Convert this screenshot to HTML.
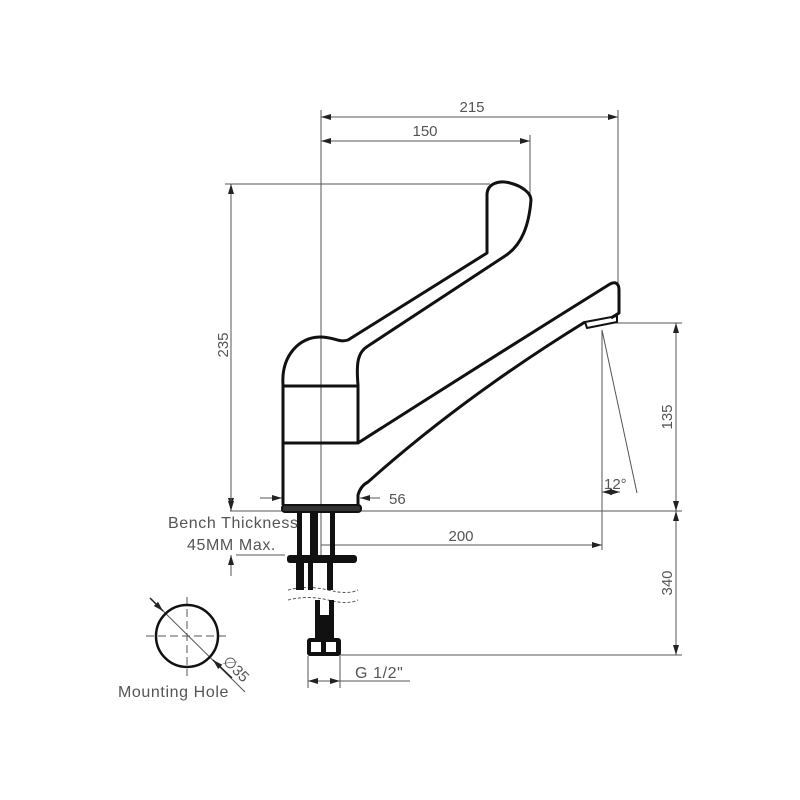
<!DOCTYPE html>
<html><head><meta charset="utf-8"><style>
html,body{margin:0;padding:0;background:#fff}
svg{display:block}
text{font-family:"Liberation Sans",sans-serif;fill:#555;font-size:15px}
.l{font-size:16px;letter-spacing:0.6px}
</style></head><body>
<svg width="800" height="800" viewBox="0 0 800 800" xmlns="http://www.w3.org/2000/svg">
<defs>
<marker id="a" viewBox="0 0 10 6" refX="10" refY="3" markerWidth="10" markerHeight="6" orient="auto-start-reverse" markerUnits="userSpaceOnUse"><path d="M0,0L10,3L0,6z" fill="#222"/></marker>
</defs>
<g stroke="#555" stroke-width="1" fill="none">
<line x1="321" y1="110" x2="321" y2="560"/>
<line x1="618" y1="110" x2="618" y2="285"/>
<line x1="530" y1="135" x2="530" y2="200"/>
<line x1="225" y1="184" x2="490" y2="184"/>
<line x1="230" y1="511" x2="682" y2="511"/>
<line x1="610" y1="323" x2="682" y2="323"/>
<line x1="340" y1="655" x2="682" y2="655"/>
<line x1="602" y1="330" x2="602" y2="550"/>
<line x1="602" y1="330" x2="637" y2="493"/>
<line x1="236" y1="555" x2="285" y2="555"/>
<line x1="308" y1="656" x2="308" y2="688"/>
<line x1="340" y1="656" x2="340" y2="688"/>
<line x1="321" y1="117" x2="618" y2="117" marker-start="url(#a)" marker-end="url(#a)"/>
<line x1="321" y1="141" x2="530" y2="141" marker-start="url(#a)" marker-end="url(#a)"/>
<line x1="231" y1="184" x2="231" y2="508" marker-start="url(#a)" marker-end="url(#a)"/>
<line x1="676" y1="323" x2="676" y2="511" marker-start="url(#a)" marker-end="url(#a)"/>
<line x1="676" y1="511" x2="676" y2="655" marker-start="url(#a)" marker-end="url(#a)"/>
<line x1="321" y1="545" x2="602" y2="545" marker-end="url(#a)"/>
<line x1="231" y1="480" x2="231" y2="511" marker-end="url(#a)"/>
<line x1="231" y1="576" x2="231" y2="555" marker-end="url(#a)"/>
<line x1="260" y1="498" x2="282" y2="498" marker-end="url(#a)"/>
<line x1="380" y1="498" x2="360" y2="498" marker-end="url(#a)"/>
<line x1="602" y1="492" x2="620" y2="492" marker-start="url(#a)" marker-end="url(#a)"/>
<line x1="308" y1="681" x2="340" y2="681" marker-start="url(#a)" marker-end="url(#a)"/>
<line x1="340" y1="681" x2="410" y2="681"/>
<line x1="150" y1="598" x2="245" y2="692"/>
<line x1="146" y1="636" x2="228" y2="636" stroke-dasharray="8,4"/>
<line x1="187" y1="597" x2="187" y2="676" stroke-dasharray="8,4"/>
<path d="M288,590 q20,-5 40,0 t30,0" stroke-dasharray="3,2"/>
<path d="M288,600 q20,-5 40,0 t30,0" stroke-dasharray="3,2"/>
</g>
<g stroke="#222" stroke-width="1.5" fill="none">
<path d="M150,598 L163,611" marker-end="url(#a)"/>
<path d="M232,678 L213,660" marker-end="url(#a)"/>
</g>
<circle cx="187" cy="636" r="31" fill="none" stroke="#111" stroke-width="2.5"/>
<g stroke="#111" stroke-width="3" fill="none" stroke-linejoin="round">
<path d="M283,505 L283,385 C281,355 300,337 320,337 C335,337 338,343 348,340 L487,253 L487,195 C487,183 500,180 510,183 C522,186 531,193 531,200 C529,225 522,245 505,256 L368,346 C358,352 356,362 358,385 L358,443 Q485,362 610,284 C616,281 619,284 619,290 L619,313 L611,318"/>
<line x1="283" y1="386" x2="358" y2="386"/>
<line x1="283" y1="443" x2="358" y2="443"/>
<path d="M358,505 L358,495 C360,488 364,484 368,482 Q462,398 585,322"/>
<path d="M585,322 L617,316 L617,322 L587,328 Z" stroke-width="2"/>
</g>
<rect x="282" y="505" width="79" height="7" rx="3" fill="#333" stroke="#111" stroke-width="2"/>
<g fill="#111">
<rect x="297" y="512" width="5" height="43"/>
<rect x="310" y="512" width="8" height="43"/>
<rect x="330" y="512" width="5" height="43"/>
<rect x="287" y="555" width="70" height="8" rx="3"/>
<rect x="296" y="563" width="8" height="27"/>
<rect x="308" y="563" width="5" height="27"/>
<rect x="327" y="563" width="6" height="27"/>
<rect x="315" y="600" width="5" height="38"/>
<rect x="329" y="600" width="5" height="38"/>
<rect x="318" y="615" width="12" height="23"/>
<rect x="307" y="638" width="34" height="18" rx="3"/>
</g>
<rect x="311" y="642" width="10" height="10" fill="#fff"/>
<rect x="326" y="642" width="10" height="10" fill="#fff"/>
<text x="472" y="112" text-anchor="middle">215</text>
<text x="425" y="136" text-anchor="middle">150</text>
<text x="461" y="541" text-anchor="middle">200</text>
<text x="389" y="504">56</text>
<text x="604" y="489">12°</text>
<text x="355" y="678" class="l">G 1/2"</text>
<text transform="translate(228,345) rotate(-90)" text-anchor="middle">235</text>
<text transform="translate(672,417) rotate(-90)" text-anchor="middle">135</text>
<text transform="translate(672,583) rotate(-90)" text-anchor="middle">340</text>
<text x="168" y="528" class="l">Bench Thickness</text>
<text x="187" y="550" class="l">45MM Max.</text>
<text x="118" y="697" class="l">Mounting Hole</text>
<text transform="translate(222,662) rotate(45)">∅35</text>
</svg>
</body></html>
